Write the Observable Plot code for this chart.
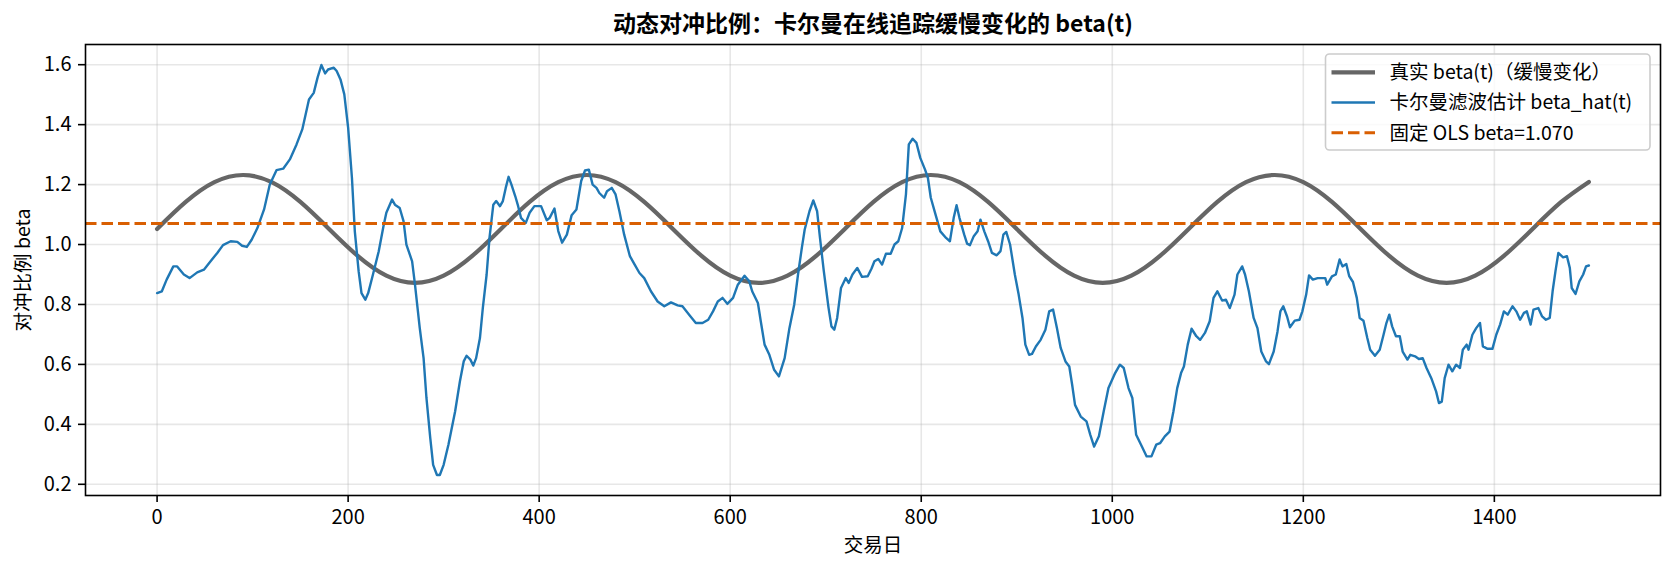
<!DOCTYPE html>
<html>
<head>
<meta charset="utf-8">
<script src="https://cdn.jsdelivr.net/npm/d3@7"></script>
<script src="https://cdn.jsdelivr.net/npm/@observablehq/plot@0.6"></script>
<style>
  html, body { margin: 0; padding: 0; background: #fff; }
  #chart svg { display: block; }
</style>
</head>
<body>
<div id="chart"></div>
<script>
// True, slowly varying hedge ratio beta(t)
const trueDays = [0, 30, 60, 90, 120, 150, 180, 210, 240, 270, 300, 330,
  360, 390, 420, 450, 480, 510, 540, 570, 600, 630, 660, 690,
  720, 750, 780, 810, 840, 870, 900, 930, 960, 990, 1020, 1050,
  1080, 1110, 1140, 1170, 1200, 1230, 1260, 1290, 1320, 1350, 1380, 1410,
  1440, 1470, 1499];
const trueBeta = [1.052, 1.142, 1.208, 1.232, 1.208, 1.142, 1.052, 0.962, 0.896, 0.872, 0.896, 0.962,
  1.052, 1.142, 1.208, 1.232, 1.208, 1.142, 1.052, 0.962, 0.896, 0.872, 0.896, 0.962,
  1.052, 1.142, 1.208, 1.232, 1.208, 1.142, 1.052, 0.962, 0.896, 0.872, 0.896, 0.962,
  1.052, 1.142, 1.208, 1.232, 1.208, 1.142, 1.052, 0.962, 0.896, 0.872, 0.896, 0.962,
  1.052, 1.142, 1.209];

// Kalman filter estimate beta_hat(t)
const estDays = [0, 5, 10, 17, 21, 28, 34, 42, 49, 56, 63, 69, 77, 84, 89, 94, 99, 105, 112, 118,
  125, 132, 139, 146, 152, 159, 164, 168, 172, 176, 179, 185, 188, 192, 196, 200, 204, 207, 211, 214,
  218, 221, 226, 232, 237, 240, 246, 249, 254, 258, 261, 267, 270, 275, 279, 282, 286, 289, 293, 296,
  300, 305, 312, 317, 321, 324, 328, 331, 334, 338, 341, 345, 348, 352, 355, 359, 362, 365, 368, 371,
  375, 378, 381, 386, 390, 395, 402, 408, 411, 416, 420, 424, 429, 434, 439, 444, 448, 452, 456, 460,
  463, 468, 471, 476, 480, 484, 489, 495, 500, 505, 510, 517, 524, 531, 538, 545, 550, 557, 564, 571,
  577, 582, 587, 592, 597, 603, 608, 615, 620, 623, 629, 632, 636, 641, 646, 651, 657, 662, 667, 671,
  675, 678, 683, 687, 691, 694, 698, 703, 706, 709, 712, 716, 721, 724, 728, 733, 738, 744, 748, 751,
  755, 759, 763, 768, 772, 776, 780, 784, 787, 791, 795, 799, 804, 807, 810, 815, 820, 826, 830, 834,
  837, 840, 845, 848, 851, 855, 859, 862, 866, 870, 874, 879, 883, 886, 889, 893, 898, 902, 906, 909,
  913, 916, 920, 925, 930, 934, 938, 942, 946, 951, 955, 958, 961, 967, 973, 977, 981, 986, 991, 996,
  1003, 1008, 1012, 1017, 1021, 1025, 1031, 1036, 1041, 1046, 1050, 1055, 1060, 1064, 1068, 1072, 1075, 1079, 1083, 1088,
  1092, 1097, 1102, 1106, 1110, 1115, 1119, 1123, 1128, 1131, 1136, 1139, 1143, 1148, 1152, 1156, 1161, 1164, 1169, 1173,
  1176, 1179, 1183, 1186, 1191, 1196, 1199, 1203, 1206, 1210, 1215, 1219, 1223, 1225, 1230, 1234, 1238, 1241, 1245, 1248,
  1252, 1256, 1259, 1263, 1267, 1270, 1275, 1280, 1284, 1287, 1290, 1293, 1297, 1301, 1304, 1309, 1312, 1317, 1321, 1325,
  1329, 1334, 1339, 1342, 1345, 1348, 1352, 1356, 1360, 1364, 1367, 1371, 1373, 1377, 1381, 1385, 1388, 1393, 1398, 1402,
  1406, 1410, 1414, 1419, 1423, 1427, 1431, 1434, 1438, 1441, 1446, 1450, 1454, 1458, 1461, 1464, 1467, 1472, 1476, 1479,
  1481, 1485, 1489, 1493, 1496, 1499];
const estBeta = [0.838, 0.844, 0.883, 0.927, 0.927, 0.900, 0.888, 0.907, 0.916, 0.944, 0.972, 0.998, 1.011, 1.009, 0.996, 0.992, 1.016, 1.055, 1.117, 1.200,
  1.248, 1.253, 1.284, 1.334, 1.384, 1.484, 1.506, 1.557, 1.599, 1.571, 1.584, 1.590, 1.579, 1.551, 1.501, 1.390, 1.222, 1.044, 0.911, 0.838,
  0.816, 0.838, 0.900, 0.977, 1.061, 1.106, 1.150, 1.133, 1.122, 1.078, 1.000, 0.944, 0.866, 0.721, 0.621, 0.488, 0.354, 0.265, 0.231, 0.231,
  0.265, 0.332, 0.443, 0.543, 0.610, 0.629, 0.616, 0.596, 0.621, 0.688, 0.788, 0.900, 1.022, 1.133, 1.145, 1.128, 1.145, 1.189, 1.226, 1.200,
  1.161, 1.128, 1.089, 1.072, 1.106, 1.128, 1.128, 1.081, 1.089, 1.120, 1.045, 1.006, 1.033, 1.098, 1.117, 1.212, 1.247, 1.250, 1.200, 1.189,
  1.172, 1.156, 1.178, 1.189, 1.167, 1.111, 1.033, 0.961, 0.933, 0.905, 0.888, 0.844, 0.810, 0.794, 0.807, 0.797, 0.794, 0.766, 0.738, 0.738,
  0.749, 0.777, 0.810, 0.822, 0.802, 0.822, 0.866, 0.896, 0.877, 0.844, 0.805, 0.744, 0.666, 0.632, 0.582, 0.560, 0.621, 0.721, 0.799, 0.900,
  0.989, 1.050, 1.111, 1.147, 1.111, 1.022, 0.911, 0.788, 0.727, 0.716, 0.755, 0.855, 0.888, 0.872, 0.900, 0.922, 0.892, 0.894, 0.920, 0.944,
  0.952, 0.933, 0.969, 0.969, 1.000, 1.011, 1.055, 1.167, 1.334, 1.353, 1.339, 1.289, 1.250, 1.222, 1.156, 1.100, 1.044, 1.022, 1.011, 1.089,
  1.131, 1.089, 1.033, 1.003, 0.998, 1.028, 1.044, 1.083, 1.044, 1.011, 0.972, 0.964, 0.978, 1.033, 1.042, 1.000, 0.900, 0.833, 0.755, 0.666,
  0.632, 0.635, 0.660, 0.682, 0.716, 0.777, 0.783, 0.722, 0.655, 0.610, 0.593, 0.532, 0.465, 0.426, 0.410, 0.365, 0.326, 0.360, 0.443, 0.521,
  0.571, 0.599, 0.588, 0.521, 0.488, 0.365, 0.326, 0.293, 0.293, 0.332, 0.337, 0.360, 0.376, 0.443, 0.521, 0.571, 0.593, 0.666, 0.719, 0.694,
  0.682, 0.705, 0.744, 0.822, 0.844, 0.813, 0.816, 0.788, 0.833, 0.900, 0.927, 0.900, 0.844, 0.755, 0.721, 0.643, 0.610, 0.601, 0.643, 0.710,
  0.777, 0.794, 0.760, 0.724, 0.746, 0.749, 0.777, 0.833, 0.897, 0.883, 0.888, 0.888, 0.888, 0.866, 0.894, 0.900, 0.950, 0.927, 0.935, 0.895,
  0.875, 0.822, 0.755, 0.746, 0.688, 0.649, 0.629, 0.649, 0.699, 0.738, 0.766, 0.727, 0.694, 0.694, 0.643, 0.616, 0.632, 0.627, 0.618, 0.621,
  0.588, 0.554, 0.510, 0.471, 0.476, 0.554, 0.599, 0.577, 0.599, 0.588, 0.649, 0.666, 0.649, 0.699, 0.721, 0.738, 0.660, 0.652, 0.652, 0.699,
  0.733, 0.777, 0.766, 0.794, 0.777, 0.749, 0.772, 0.777, 0.733, 0.783, 0.788, 0.760, 0.749, 0.755, 0.844, 0.911, 0.972, 0.957, 0.961, 0.922,
  0.855, 0.835, 0.877, 0.900, 0.927, 0.930];

// Static OLS hedge ratio over the whole sample
const olsBeta = 1.070;

// Axis ticks
const xTicks = [0, 200, 400, 600, 800, 1000, 1200, 1400];
const yTicks = [0.2, 0.4, 0.6, 0.8, 1.0, 1.2, 1.4, 1.6];

// Text
const titleText = "动态对冲比例：卡尔曼在线追踪缓慢变化的 beta(t)";
const xLabel = "交易日";
const yLabel = "对冲比例 beta";
const seriesNames = [
  "真实 beta(t)（缓慢变化）",
  "卡尔曼滤波估计 beta_hat(t)",
  `固定 OLS beta=${olsBeta.toFixed(3)}`
];

// Styles
const FONT = "'Noto Sans CJK SC', 'Noto Sans', sans-serif";
const colTrue = "#666666";
const colEst = "#1f77b4";
const colOls = "#d95f02";
const W = 1673, H = 568;
const M = {top: 44, right: 13, bottom: 73, left: 85};

const trueRows = trueDays.map((t, i) => ({t, v: trueBeta[i]}));
const estRows = estDays.map((t, i) => ({t, v: estBeta[i]}));

// Autoscale with 5% padding on each side
function padded(values) {
  const [lo, hi] = d3.extent(values);
  const p = (hi - lo) * 0.05;
  return [lo - p, hi + p];
}
const xDomain = padded([...trueDays, ...estDays]);
const yDomain = padded([...trueBeta, ...estBeta, olsBeta]);

const plot = Plot.plot({
  width: W,
  height: H,
  marginTop: M.top,
  marginRight: M.right,
  marginBottom: M.bottom,
  marginLeft: M.left,
  style: {fontFamily: FONT, fontSize: "20px", color: "#000", background: "#fff", overflow: "visible"},
  x: {domain: xDomain},
  y: {domain: yDomain},
  marks: [
    Plot.gridX(xTicks, {stroke: "#b0b0b0", strokeOpacity: 0.3, strokeWidth: 1.6}),
    Plot.gridY(yTicks, {stroke: "#b0b0b0", strokeOpacity: 0.3, strokeWidth: 1.6}),
    Plot.line(trueRows, {x: "t", y: "v", stroke: colTrue, strokeWidth: 4.2, curve: "natural"}),
    Plot.line(estRows, {x: "t", y: "v", stroke: colEst, strokeWidth: 2.4}),
    Plot.ruleY([olsBeta], {stroke: colOls, strokeWidth: 3, strokeDasharray: "11.5,5"}),
    Plot.axisX(xTicks, {tickSize: 7, tickPadding: 7, strokeWidth: 1.6, fontSize: 20, label: null, tickFormat: d3.format("d")}),
    Plot.axisY(yTicks, {tickSize: 7, tickPadding: 7, strokeWidth: 1.6, fontSize: 20, label: null, tickFormat: d3.format(".1f")}),
    Plot.frame({stroke: "#000", strokeWidth: 1.6}),
    Plot.text([titleText], {text: d => d, frameAnchor: "top", dy: -20, lineAnchor: "middle", fontSize: 23, fontWeight: "bold"}),
    Plot.text([xLabel], {text: d => d, frameAnchor: "bottom", dy: 50, lineAnchor: "middle", fontSize: 19.5}),
    Plot.text([yLabel], {text: d => d, frameAnchor: "left", dx: -62, rotate: -90, lineAnchor: "middle", textAnchor: "middle", fontSize: 19.5})
  ]
});

// Legend in the upper-right corner of the frame
const legendItems = [
  {name: seriesNames[0], stroke: colTrue, width: 4.2, dash: null},
  {name: seriesNames[1], stroke: colEst, width: 2.4, dash: null},
  {name: seriesNames[2], stroke: colOls, width: 3, dash: "11.5,5"}
];
const svg = d3.select(plot);
const boxW = 324.5, boxH = 96, pad = 10;
const bx = W - M.right - pad - boxW, by = M.top + pad;
const lg = svg.append("g")
  .attr("font-family", FONT)
  .attr("font-size", 19.5)
  .attr("text-anchor", "start");
lg.append("rect")
  .attr("x", bx).attr("y", by).attr("width", boxW).attr("height", boxH)
  .attr("rx", 4).attr("fill", "#fff").attr("fill-opacity", 0.8)
  .attr("stroke", "#cccccc").attr("stroke-width", 1.6);
legendItems.forEach((d, i) => {
  const cy = by + 18.3 + i * 30.2;
  lg.append("line")
    .attr("x1", bx + 6).attr("x2", bx + 49.5).attr("y1", cy).attr("y2", cy)
    .attr("stroke", d.stroke).attr("stroke-width", d.width)
    .attr("stroke-dasharray", d.dash);
  lg.append("text")
    .attr("x", bx + 64).attr("y", cy).attr("dy", "0.35em")
    .attr("text-anchor", "start")
    .attr("fill", "#000").text(d.name);
});

document.getElementById("chart").appendChild(plot);
</script>
</body>
</html>
